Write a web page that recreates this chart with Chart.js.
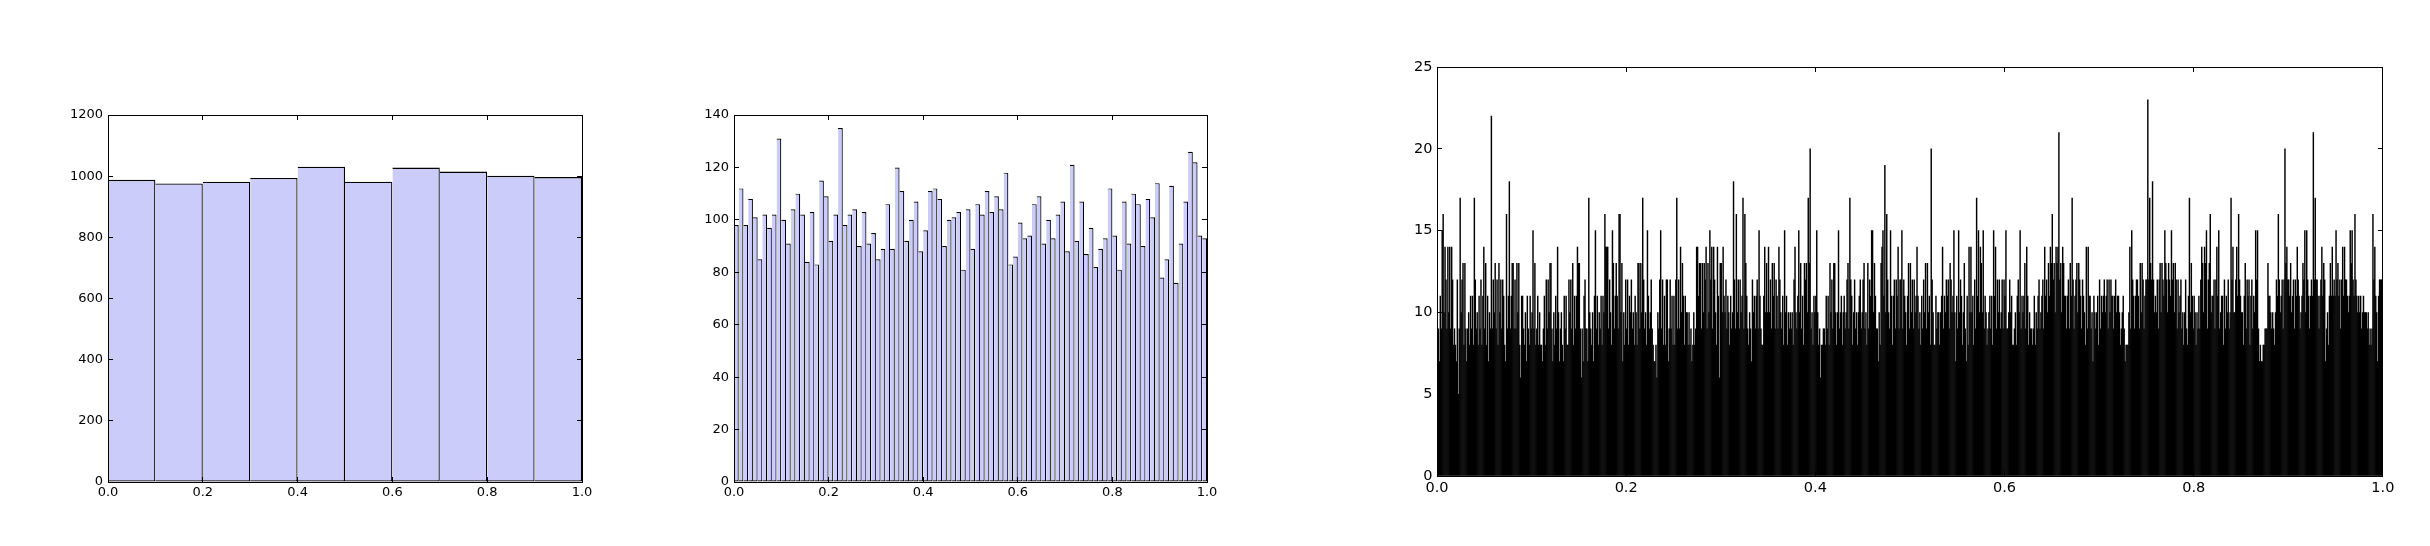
<!DOCTYPE html>
<html><head><meta charset="utf-8">
<script src="https://cdn.jsdelivr.net/npm/chart.js@4"></script>
<style>
html,body{margin:0;padding:0;background:#fff;width:2430px;height:546px;overflow:hidden;}
canvas{position:absolute;}
</style></head><body>
<canvas id="h10" width="580" height="427" style="left:28px;top:95px"></canvas>
<canvas id="h100" width="579" height="427" style="left:654px;top:95px"></canvas>
<canvas id="h1000" width="1046" height="469" style="left:1357px;top:47px"></canvas>
<script>
const xTickLabels = ["0.0","0.2","0.4","0.6","0.8","1.0"];

const counts10 = [988,976,982,994,1031,982,1028,1015,1001,997];

const counts100 = [
98,112,98,108,101,85,102,97,102,131,
100,91,104,110,102,84,103,83,115,109,
92,102,135,98,102,104,90,103,91,95,
85,89,106,89,120,111,92,100,107,88,
96,111,112,108,90,100,101,103,81,104,
89,106,102,111,103,109,104,118,83,86,
99,93,94,106,109,91,100,93,102,107,
88,121,92,107,87,97,82,89,93,112,
94,81,107,91,110,106,90,108,101,114,
78,85,113,76,91,107,126,122,94,93];

const counts1000 = [
8,9,7,11,9,15,16,10,14,12, 9,14,10,14,9,14,12,8,9,8,
7,12,5,9,17,10,12,13,8,13, 9,7,9,10,8,11,9,11,8,17,
12,9,10,8,11,9,12,8,11,14, 9,13,8,11,7,10,9,22,9,12,
10,13,9,12,8,13,10,12,9,12, 11,8,7,16,9,11,18,9,11,13,
13,9,12,9,13,10,13,8,6,11, 11,9,8,10,7,11,9,8,11,9,
10,15,9,13,8,9,11,8,10,8, 8,7,9,11,8,12,9,12,10,13,
13,9,7,10,8,11,9,14,10,7, 9,10,8,7,11,9,11,8,8,12,
10,12,9,13,8,11,9,11,14,13, 13,9,6,9,7,11,12,9,9,7,
17,10,9,8,10,7,11,15,9,11, 8,10,9,11,8,11,10,16,14,14,
14,9,12,10,8,15,13,9,11,13, 11,9,16,16,10,13,7,10,8,12,
9,12,8,11,10,12,9,10,8,11, 10,8,13,13,9,13,10,17,12,9,
10,8,15,11,9,10,12,9,8,7, 7,8,6,10,9,12,15,9,12,8,
11,8,12,12,7,9,12,9,11,8, 11,8,12,17,9,12,9,14,10,13,
11,8,11,10,10,8,10,8,9,7, 8,10,8,9,14,14,11,13,13,9,
13,10,13,12,14,9,13,10,15,12, 14,9,14,12,10,8,14,11,6,13,
13,10,14,11,10,12,9,11,10,8, 11,9,10,18,12,9,16,10,12,9,
12,10,11,17,9,16,13,11,9,8, 10,9,7,12,10,11,9,11,12,9,
15,11,9,8,8,11,14,10,13,10, 14,10,12,9,13,11,13,9,12,11,
9,14,12,10,9,11,8,15,10,11, 8,10,9,10,9,10,8,12,14,10,
9,11,15,10,13,9,11,8,13,12, 13,10,17,13,20,9,10,8,11,10,
11,15,10,8,9,6,8,8,9,9, 8,11,9,11,8,13,10,12,9,13,
13,10,8,10,15,9,10,11,8,10, 11,9,10,12,13,9,17,12,11,8,
10,12,9,10,8,10,11,12,9,10, 12,13,9,10,8,13,9,12,11,15,
15,10,13,11,9,9,7,10,8,13, 14,15,11,19,10,16,12,10,9,15,
11,8,11,12,9,12,11,14,9,12, 12,15,9,12,11,10,8,11,13,9,
13,10,12,9,12,10,11,14,11,9, 10,8,11,9,12,10,13,9,13,10,
11,8,20,12,10,8,8,11,9,10, 10,8,10,11,14,9,11,10,12,11,
12,9,13,12,10,11,15,10,7,11, 9,15,10,12,11,8,10,13,9,7,
11,8,14,10,14,10,11,8,12,9, 17,11,15,10,14,13,10,15,9,11,
10,8,9,10,11,9,11,8,15,11, 14,9,12,10,12,9,10,12,9,12,
11,15,9,9,10,12,10,11,8,8, 9,10,8,11,12,10,15,9,11,10,
11,13,9,14,11,8,10,9,9,8, 9,11,8,10,9,11,12,9,10,11,
12,9,14,11,12,10,13,11,14,13, 16,12,13,10,14,13,14,21,12,13,
10,14,13,11,11,9,11,12,9,13, 11,17,12,9,11,12,13,10,13,12,
11,9,12,11,10,8,14,9,14,11, 11,9,10,7,11,10,9,10,11,8,
12,9,11,10,11,12,10,11,12,9, 12,10,12,11,11,9,11,12,10,11,
11,10,8,9,10,11,9,7,8,8, 8,10,14,9,15,12,11,9,11,12,
12,11,9,13,10,13,12,9,11,12, 12,23,12,17,13,12,18,12,10,11,
10,12,9,12,13,10,13,12,11,15, 13,12,10,13,12,11,15,12,13,10,
13,12,9,12,10,11,12,9,10,8, 10,12,9,8,11,17,10,13,11,9,
11,10,8,10,9,11,9,12,14,13, 10,14,13,15,9,12,13,16,10,11,
11,12,9,12,14,11,15,9,10,11, 11,8,12,9,11,10,12,9,10,17,
12,14,10,10,12,14,11,16,12,11, 10,10,8,11,13,9,12,11,12,8,
11,12,9,11,10,15,12,15,9,7, 8,7,7,8,8,9,9,9,13,11,
11,10,9,10,9,8,10,12,11,16, 12,10,11,12,9,12,20,13,14,12,
12,11,13,10,11,12,9,12,11,14, 12,11,9,10,11,13,12,15,10,15,
12,11,9,11,12,11,21,12,17,12, 12,11,9,11,12,14,11,13,12,7,
9,10,8,11,13,11,14,11,12,11, 15,12,13,11,12,9,12,14,11,14,
12,12,11,10,11,15,13,15,12,11, 16,12,11,10,11,10,11,9,10,11,
10,10,10,9,10,8,9,8,9,16, 12,14,11,10,7,11,12,12,12,12];

function binCenters(n) { const a = []; for (let i = 0; i < n; i++) a.push((i + 0.5) / n); return a; }

function makeHist(id, counts, cfg) {
  const centers = binCenters(counts.length);
  const pts = counts.map((v, i) => ({x: centers[i], y: v}));
  const tl = -5;
  const font = {family: 'DejaVu Sans', size: cfg.font};
  const common = {
    border: {display: true, color: '#000', width: 1, z: 1},
    grid: {display: true, drawOnChartArea: false, drawTicks: true, tickLength: tl, color: '#000', lineWidth: 1, z: 1, offset: false},
  };
  const xTicks = {stepSize: 0.2, autoSkip: false, maxRotation: 0, font, color: '#000', padding: cfg.xpad - tl,
                  callback: (v, i) => xTickLabels[i]};
  const yTicks = {stepSize: cfg.ystep, autoSkip: false, font, color: '#000', padding: cfg.ypad - tl,
                  callback: v => String(v)};
  new Chart(document.getElementById(id), {
    type: 'bar',
    data: {datasets: [{data: pts, xAxisID: 'x', yAxisID: 'y',
      backgroundColor: cfg.fill, borderColor: cfg.edge, borderWidth: cfg.bw, borderSkipped: cfg.skip,
      barPercentage: 1, categoryPercentage: 1, inflateAmount: cfg.inflate}]},
    options: {
      responsive: false, animation: false, events: [],
      layout: {padding: {top: 20, right: cfg.rpad, left: 0, bottom: 0}},
      plugins: {legend: {display: false}, tooltip: {enabled: false}},
      scales: {
        x: Object.assign({type: 'linear', position: 'bottom', min: 0, max: 1, offset: false, ticks: xTicks,
             afterFit: s => { s.height = 40; }}, common),
        x2: Object.assign({type: 'linear', position: 'top', min: 0, max: 1, offset: false,
             ticks: {stepSize: 0.2, display: false}, afterFit: s => { s.height = 0; }}, common),
        y: Object.assign({type: 'linear', position: 'left', min: 0, max: cfg.ymax, ticks: yTicks,
             afterFit: s => { s.width = 80; }}, common),
        y2: Object.assign({type: 'linear', position: 'right', min: 0, max: cfg.ymax,
             ticks: {stepSize: cfg.ystep, display: false}, afterFit: s => { s.width = 0; }}, common)
      }
    }
  });
}

makeHist('h10', counts10, {ymax: 1200, ystep: 200, font: 13, xpad: 3, ypad: 5, rpad: 26,
  fill: 'rgb(204,204,250)', edge: '#000', bw: 1.3, skip: 'left', inflate: 0});
makeHist('h100', counts100, {ymax: 140, ystep: 20, font: 13, xpad: 3, ypad: 5, rpad: 26,
  fill: 'rgb(204,204,250)', edge: '#000', bw: 1.2, skip: 'left', inflate: 0});
makeHist('h1000', counts1000, {ymax: 25, ystep: 5, font: 14.5, xpad: 3.6, ypad: 4.5, rpad: 20,
  fill: '#000', edge: '#000', bw: 0, skip: false, inflate: 0.25});
</script>
</body></html>
